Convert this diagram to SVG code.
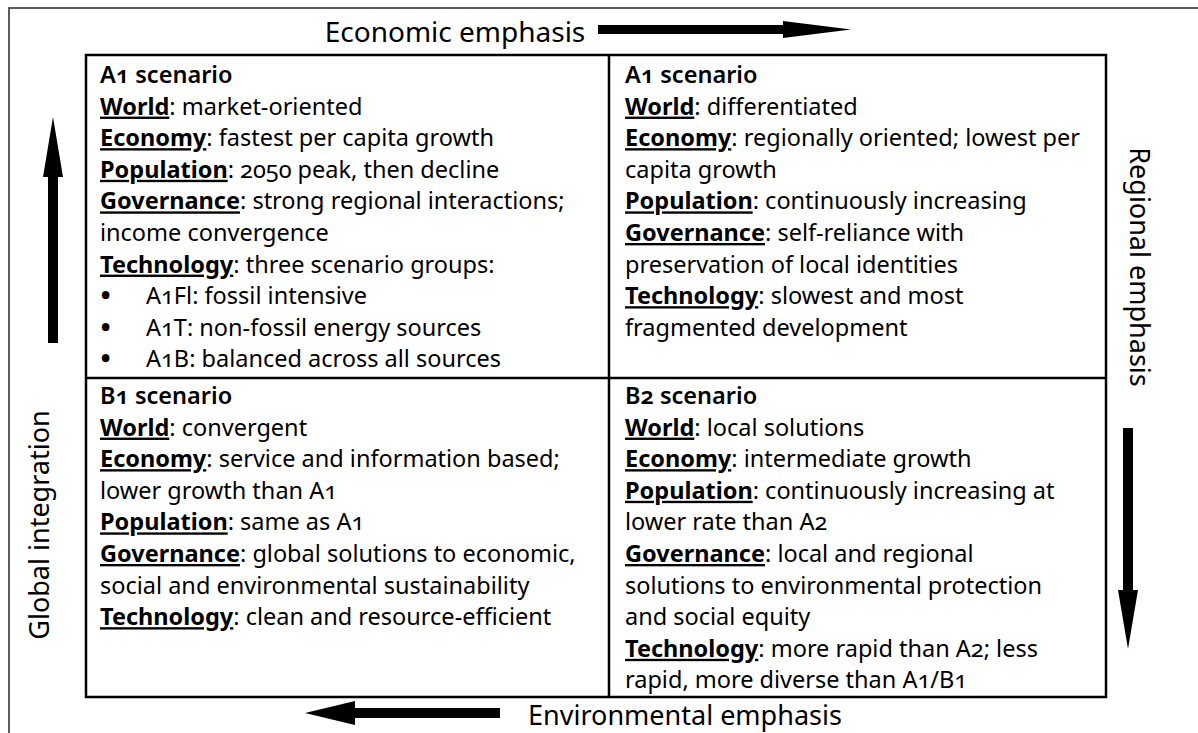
<svg xmlns="http://www.w3.org/2000/svg" width="1198" height="733" viewBox="0 0 1198 733">
<style>
text{font-family:"Noto Sans","Open Sans","DejaVu Sans",sans-serif;fill:#000;font-variant-numeric:oldstyle-nums}
.b{font-size:23.5px}
.h{font-weight:600}
.l{font-weight:700;text-decoration:underline}
.ax{font-size:27px;text-anchor:middle}
.bu{font-size:23.5px;font-weight:900}
</style>
<rect x="9" y="8" width="1200" height="740" fill="#fff" stroke="#333" stroke-width="1.6"/>
<g id="axis-labels">
<text class="ax" x="455" y="42" style="font-size:28px">Economic emphasis</text>
<text class="ax" x="685" y="725">Environmental emphasis</text>
<text class="ax" transform="translate(49,525) rotate(-90)">Global integration</text>
<text class="ax" transform="translate(1130,267) rotate(90)">Regional emphasis</text>
</g>
<g id="connectors" fill="#000">
<path d="M598 25 H783 V21 L851 29.5 L783 38 V34 H598 Z"/>
<path d="M500 708 H355 V701 L305 713 L355 725 V718 H500 Z"/>
<path d="M48 343 V177 H43 L53 117 L63 177 H58 V343 Z"/>
<path d="M1123 428 V590 H1118 L1128 649 L1138 590 H1133 V428 Z"/>
</g>
<g id="table" fill="none" stroke="#000" stroke-width="2.5">
<rect x="86" y="55" width="1020" height="642"/>
<line x1="609" y1="55" x2="609" y2="697"/>
<line x1="86" y1="378" x2="1106" y2="378"/>
</g>
<g id="cell-a1-left">
<text class="b" x="100" y="83"><tspan class="h">A1 scenario</tspan></text>
<text class="b" x="100" y="114.6"><tspan class="l">World</tspan>: market-oriented</text>
<text class="b" x="100" y="146.2"><tspan class="l">Economy</tspan>: fastest per capita growth</text>
<text class="b" x="100" y="177.8"><tspan class="l">Population</tspan>: 2050 peak, then decline</text>
<text class="b" x="100" y="209.4"><tspan class="l">Governance</tspan>: strong regional interactions;</text>
<text class="b" x="100" y="241">income convergence</text>
<text class="b" x="100" y="272.6"><tspan class="l">Technology</tspan>: three scenario groups:</text>
<text class="bu" x="101" y="304.2">•</text><text class="b" x="146" y="304.2">A1Fl: fossil intensive</text>
<text class="bu" x="101" y="335.8">•</text><text class="b" x="146" y="335.8">A1T: non-fossil energy sources</text>
<text class="bu" x="101" y="367.4">•</text><text class="b" x="146" y="367.4">A1B: balanced across all sources</text>
</g>
<g id="cell-a1-right">
<text class="b" x="625" y="83"><tspan class="h">A1 scenario</tspan></text>
<text class="b" x="625" y="114.6"><tspan class="l">World</tspan>: differentiated</text>
<text class="b" x="625" y="146.2"><tspan class="l">Economy</tspan>: regionally oriented; lowest per</text>
<text class="b" x="625" y="177.8">capita growth</text>
<text class="b" x="625" y="209.4"><tspan class="l">Population</tspan>: continuously increasing</text>
<text class="b" x="625" y="241"><tspan class="l">Governance</tspan>: self-reliance with</text>
<text class="b" x="625" y="272.6">preservation of local identities</text>
<text class="b" x="625" y="304.2"><tspan class="l">Technology</tspan>: slowest and most</text>
<text class="b" x="625" y="335.8">fragmented development</text>
</g>
<g id="cell-b1">
<text class="b" x="100" y="404"><tspan class="h">B1 scenario</tspan></text>
<text class="b" x="100" y="435.6"><tspan class="l">World</tspan>: convergent</text>
<text class="b" x="100" y="467.2"><tspan class="l">Economy</tspan>: service and information based;</text>
<text class="b" x="100" y="498.8">lower growth than A1</text>
<text class="b" x="100" y="530.4"><tspan class="l">Population</tspan>: same as A1</text>
<text class="b" x="100" y="562"><tspan class="l">Governance</tspan>: global solutions to economic,</text>
<text class="b" x="100" y="593.6">social and environmental sustainability</text>
<text class="b" x="100" y="625.2"><tspan class="l">Technology</tspan>: clean and resource-efficient</text>
</g>
<g id="cell-b2">
<text class="b" x="625" y="404"><tspan class="h">B2 scenario</tspan></text>
<text class="b" x="625" y="435.6"><tspan class="l">World</tspan>: local solutions</text>
<text class="b" x="625" y="467.2"><tspan class="l">Economy</tspan>: intermediate growth</text>
<text class="b" x="625" y="498.8"><tspan class="l">Population</tspan>: continuously increasing at</text>
<text class="b" x="625" y="530.4">lower rate than A2</text>
<text class="b" x="625" y="562"><tspan class="l">Governance</tspan>: local and regional</text>
<text class="b" x="625" y="593.6">solutions to environmental protection</text>
<text class="b" x="625" y="625.2">and social equity</text>
<text class="b" x="625" y="656.8"><tspan class="l">Technology</tspan>: more rapid than A2; less</text>
<text class="b" x="625" y="688.4">rapid, more diverse than A1/B1</text>
</g>
</svg>
